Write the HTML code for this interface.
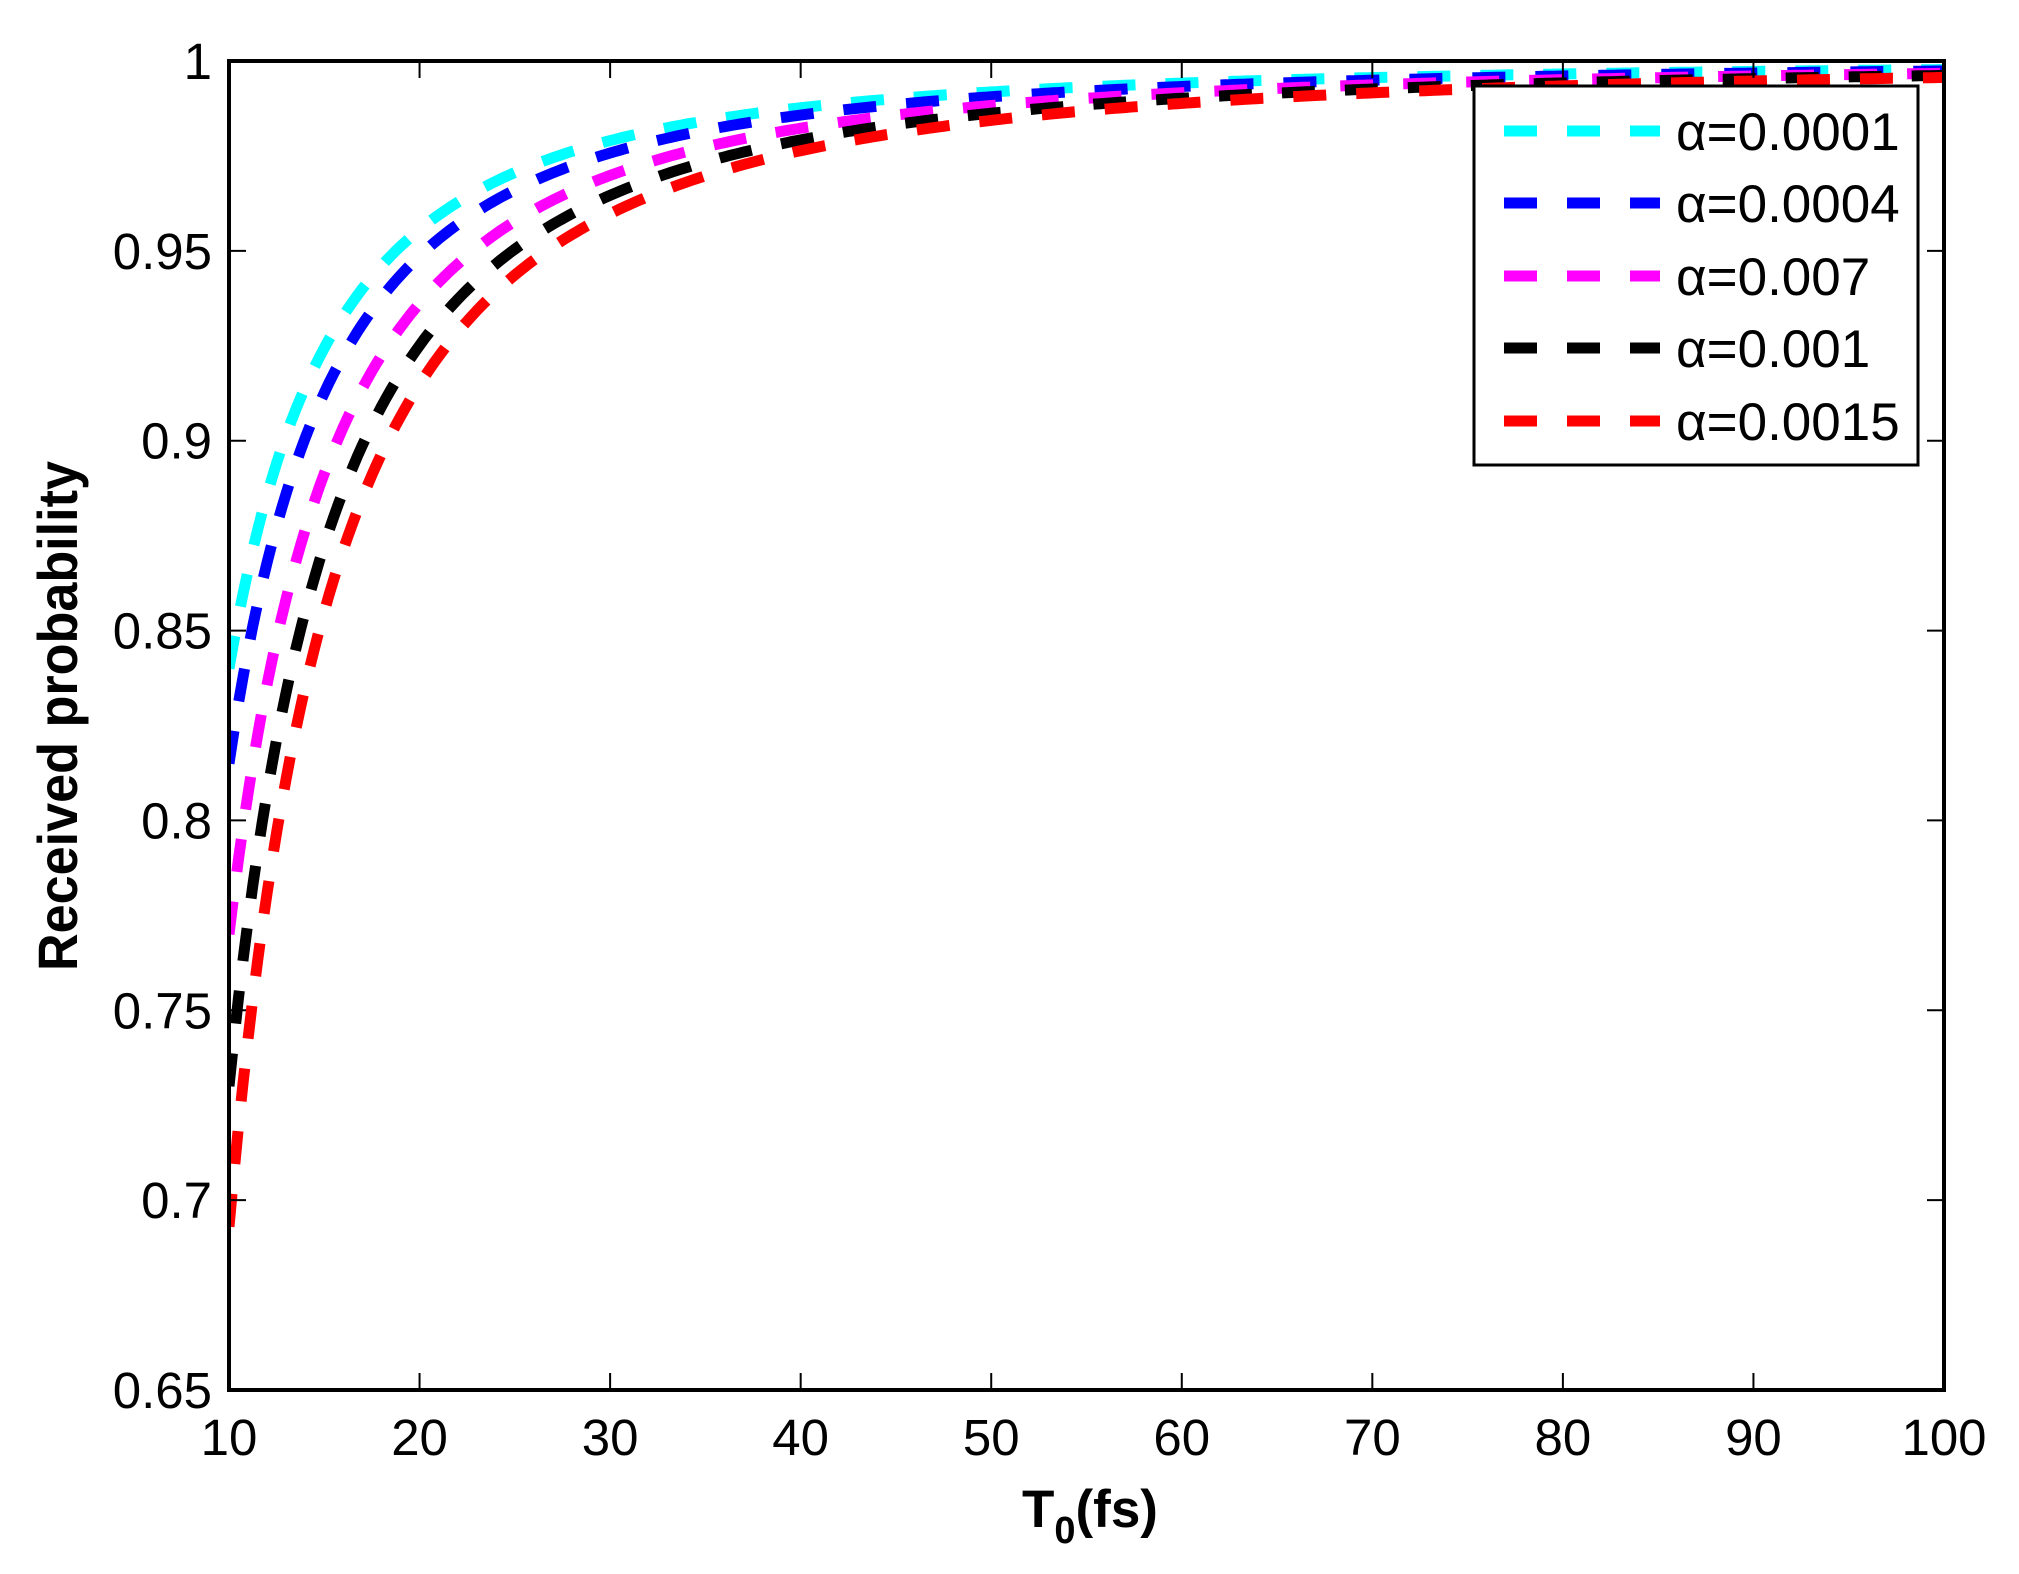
<!DOCTYPE html>
<html><head><meta charset="utf-8"><style>
html,body{margin:0;padding:0;background:#fff;}
svg{display:block;}
text{font-family:"Liberation Sans",Arial,sans-serif;fill:#000;}
</style></head><body>
<svg id="s" width="2019" height="1574" viewBox="0 0 2019 1574" xmlns="http://www.w3.org/2000/svg">
<rect width="2019" height="1574" fill="#fff"/>
<defs><clipPath id="c"><rect x="229" y="61" width="1715" height="1329"/></clipPath></defs>
<g id="curves" clip-path="url(#c)"></g>
<g stroke="#000" stroke-width="2" id="ticks"></g>
<rect x="229" y="61" width="1715" height="1329" fill="none" stroke="#000" stroke-width="4"/>
<g font-size="51" text-anchor="end" id="ylab"></g>
<g font-size="51" text-anchor="middle" id="xlab"></g>
<text x="0" y="0" font-size="56" font-weight="bold" text-anchor="middle" transform="translate(77,716) rotate(-90)" textLength="510" lengthAdjust="spacingAndGlyphs">Received probability</text>
<text x="1090" y="1527" font-size="53" font-weight="bold" text-anchor="middle">T<tspan font-size="38" dy="16">0</tspan><tspan dy="-16">(fs)</tspan></text>
<rect x="1474" y="86" width="444" height="379" fill="#fff" stroke="#000" stroke-width="3"/>
<g id="leg" font-size="53"></g>
</svg>
<script>
var ns="http://www.w3.org/2000/svg";
function el(t,a,p,txt){var e=document.createElementNS(ns,t);for(var k in a)e.setAttribute(k,a[k]);if(txt)e.textContent=txt;p.appendChild(e);return e;}
var X=function(t){return 229+(t-10)/90*1715;};
var Y=function(v){return 1390-(v-0.65)/0.35*1329;};
var cols=["#00ffff","#0000ff","#ff00ff","#000000","#ff0000"];
var as=[0.16,0.185,0.23,0.27,0.307];
var labs=["α=0.0001","α=0.0004","α=0.007","α=0.001","α=0.0015"];
var g=document.getElementById("curves");
for(var i=0;i<5;i++){var d="";for(var t=10;t<=100.001;t+=0.25){var v=1-as[i]*Math.pow(10/t,1.85);d+=(t==10?"M":"L")+X(t).toFixed(1)+" "+Y(v).toFixed(1);}
el("path",{d:d,fill:"none",stroke:cols[i],"stroke-width":11,"stroke-dasharray":"33 30"},g);}
var tk=document.getElementById("ticks"),yl=document.getElementById("ylab"),xl=document.getElementById("xlab");
for(var k=0;k<=7;k++){var v=0.65+k*0.05,y=Y(v);
el("line",{x1:229,y1:y,x2:246,y2:y},tk);el("line",{x1:1944,y1:y,x2:1927,y2:y},tk);
var s=(Math.round(v*100)/100).toString();el("text",{x:212,y:y+18},yl,s);}
for(var t=10;t<=100;t+=10){var x=X(t);
el("line",{x1:x,y1:1390,x2:x,y2:1373},tk);el("line",{x1:x,y1:61,x2:x,y2:78},tk);
el("text",{x:x,y:1455},xl,String(t));}
var lg=document.getElementById("leg");
var ly=[131,203,276,348,421];
for(var i=0;i<5;i++){el("line",{x1:1504,y1:ly[i],x2:1660,y2:ly[i],stroke:cols[i],"stroke-width":11,"stroke-dasharray":"33 30"},lg);
el("text",{x:1676,y:ly[i]+19},lg,labs[i]);}
</script>
</body></html>
